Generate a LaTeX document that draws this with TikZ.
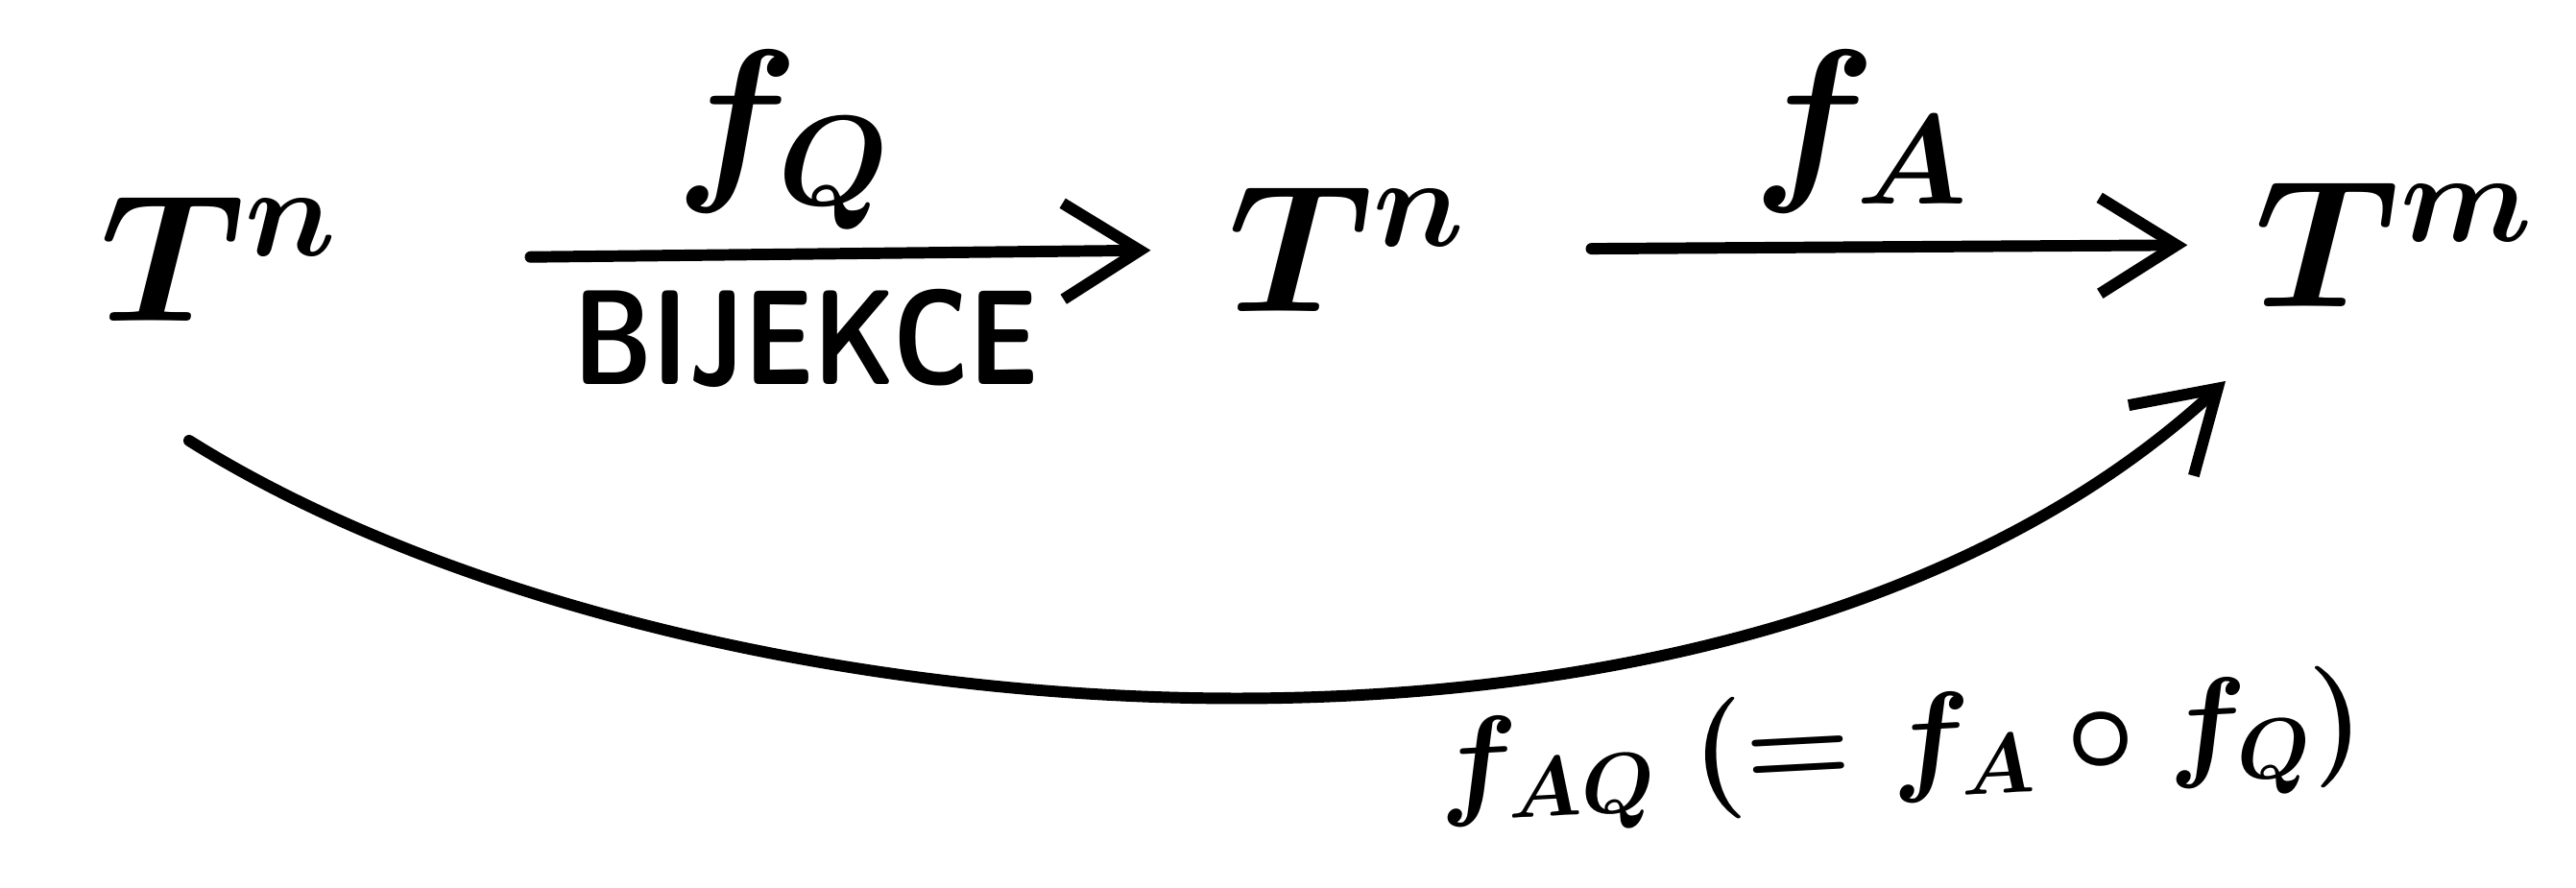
\documentclass[tikz,border=0pt]{standalone}
\usepackage{fix-cm}
\usepackage{amsmath}
\usetikzlibrary{arrows.meta, positioning}

\begin{document}
\begin{tikzpicture}[
  space/.style={inner sep=0pt, anchor=base, font=\fontsize{54}{60}\selectfont\boldmath},
  arr/.style={-{Straight Barb[length=8mm, width=10mm]}, line width=3.4pt, line cap=round},
  lbl/.style={font=\fontsize{54}{60}\selectfont\boldmath, inner sep=2mm},
  word/.style={font=\sffamily\bfseries\fontsize{40}{46}\selectfont, inner sep=3mm,
               xscale=0.8, transform shape}
]
  \useasboundingbox (0,0) rectangle (26.83,9.25);

  \node[space] (Tn1) at (2.28,5.9)  {$T^{n}$};
  \node[space] (Tn2) at (14.03,6.0) {$T^{n}$};
  \node[space] (Tm)  at (24.94,6.05) {$T^{m}$};

  \draw[arr, shorten <=2.0cm, shorten >=0.8cm] (Tn1.east) --
    node[lbl, above] {$f_Q$} node[word, below, xshift=3mm] {BIJEKCE} (Tn2.west);
  \draw[arr, shorten <=1.3cm, shorten >=0.7cm] (Tn2.east) --
    node[lbl, above=1mm] {$f_A$} (Tm.west);

  % composite map
  \draw[arr] ([shift={(-0.31,-1.24)}]Tn1.base)
    .. controls +(5.03,-3.16) and +(-5.18,-4.78) .. ([shift={(-1.76,-0.77)}]Tm.base);
  \node[lbl, font=\fontsize{36}{42}\selectfont\boldmath, rotate=3] (fAQ) at (19.8,1.42)
    {$f_{AQ}\ (= f_A \circ f_Q)$};
\end{tikzpicture}
\end{document}
